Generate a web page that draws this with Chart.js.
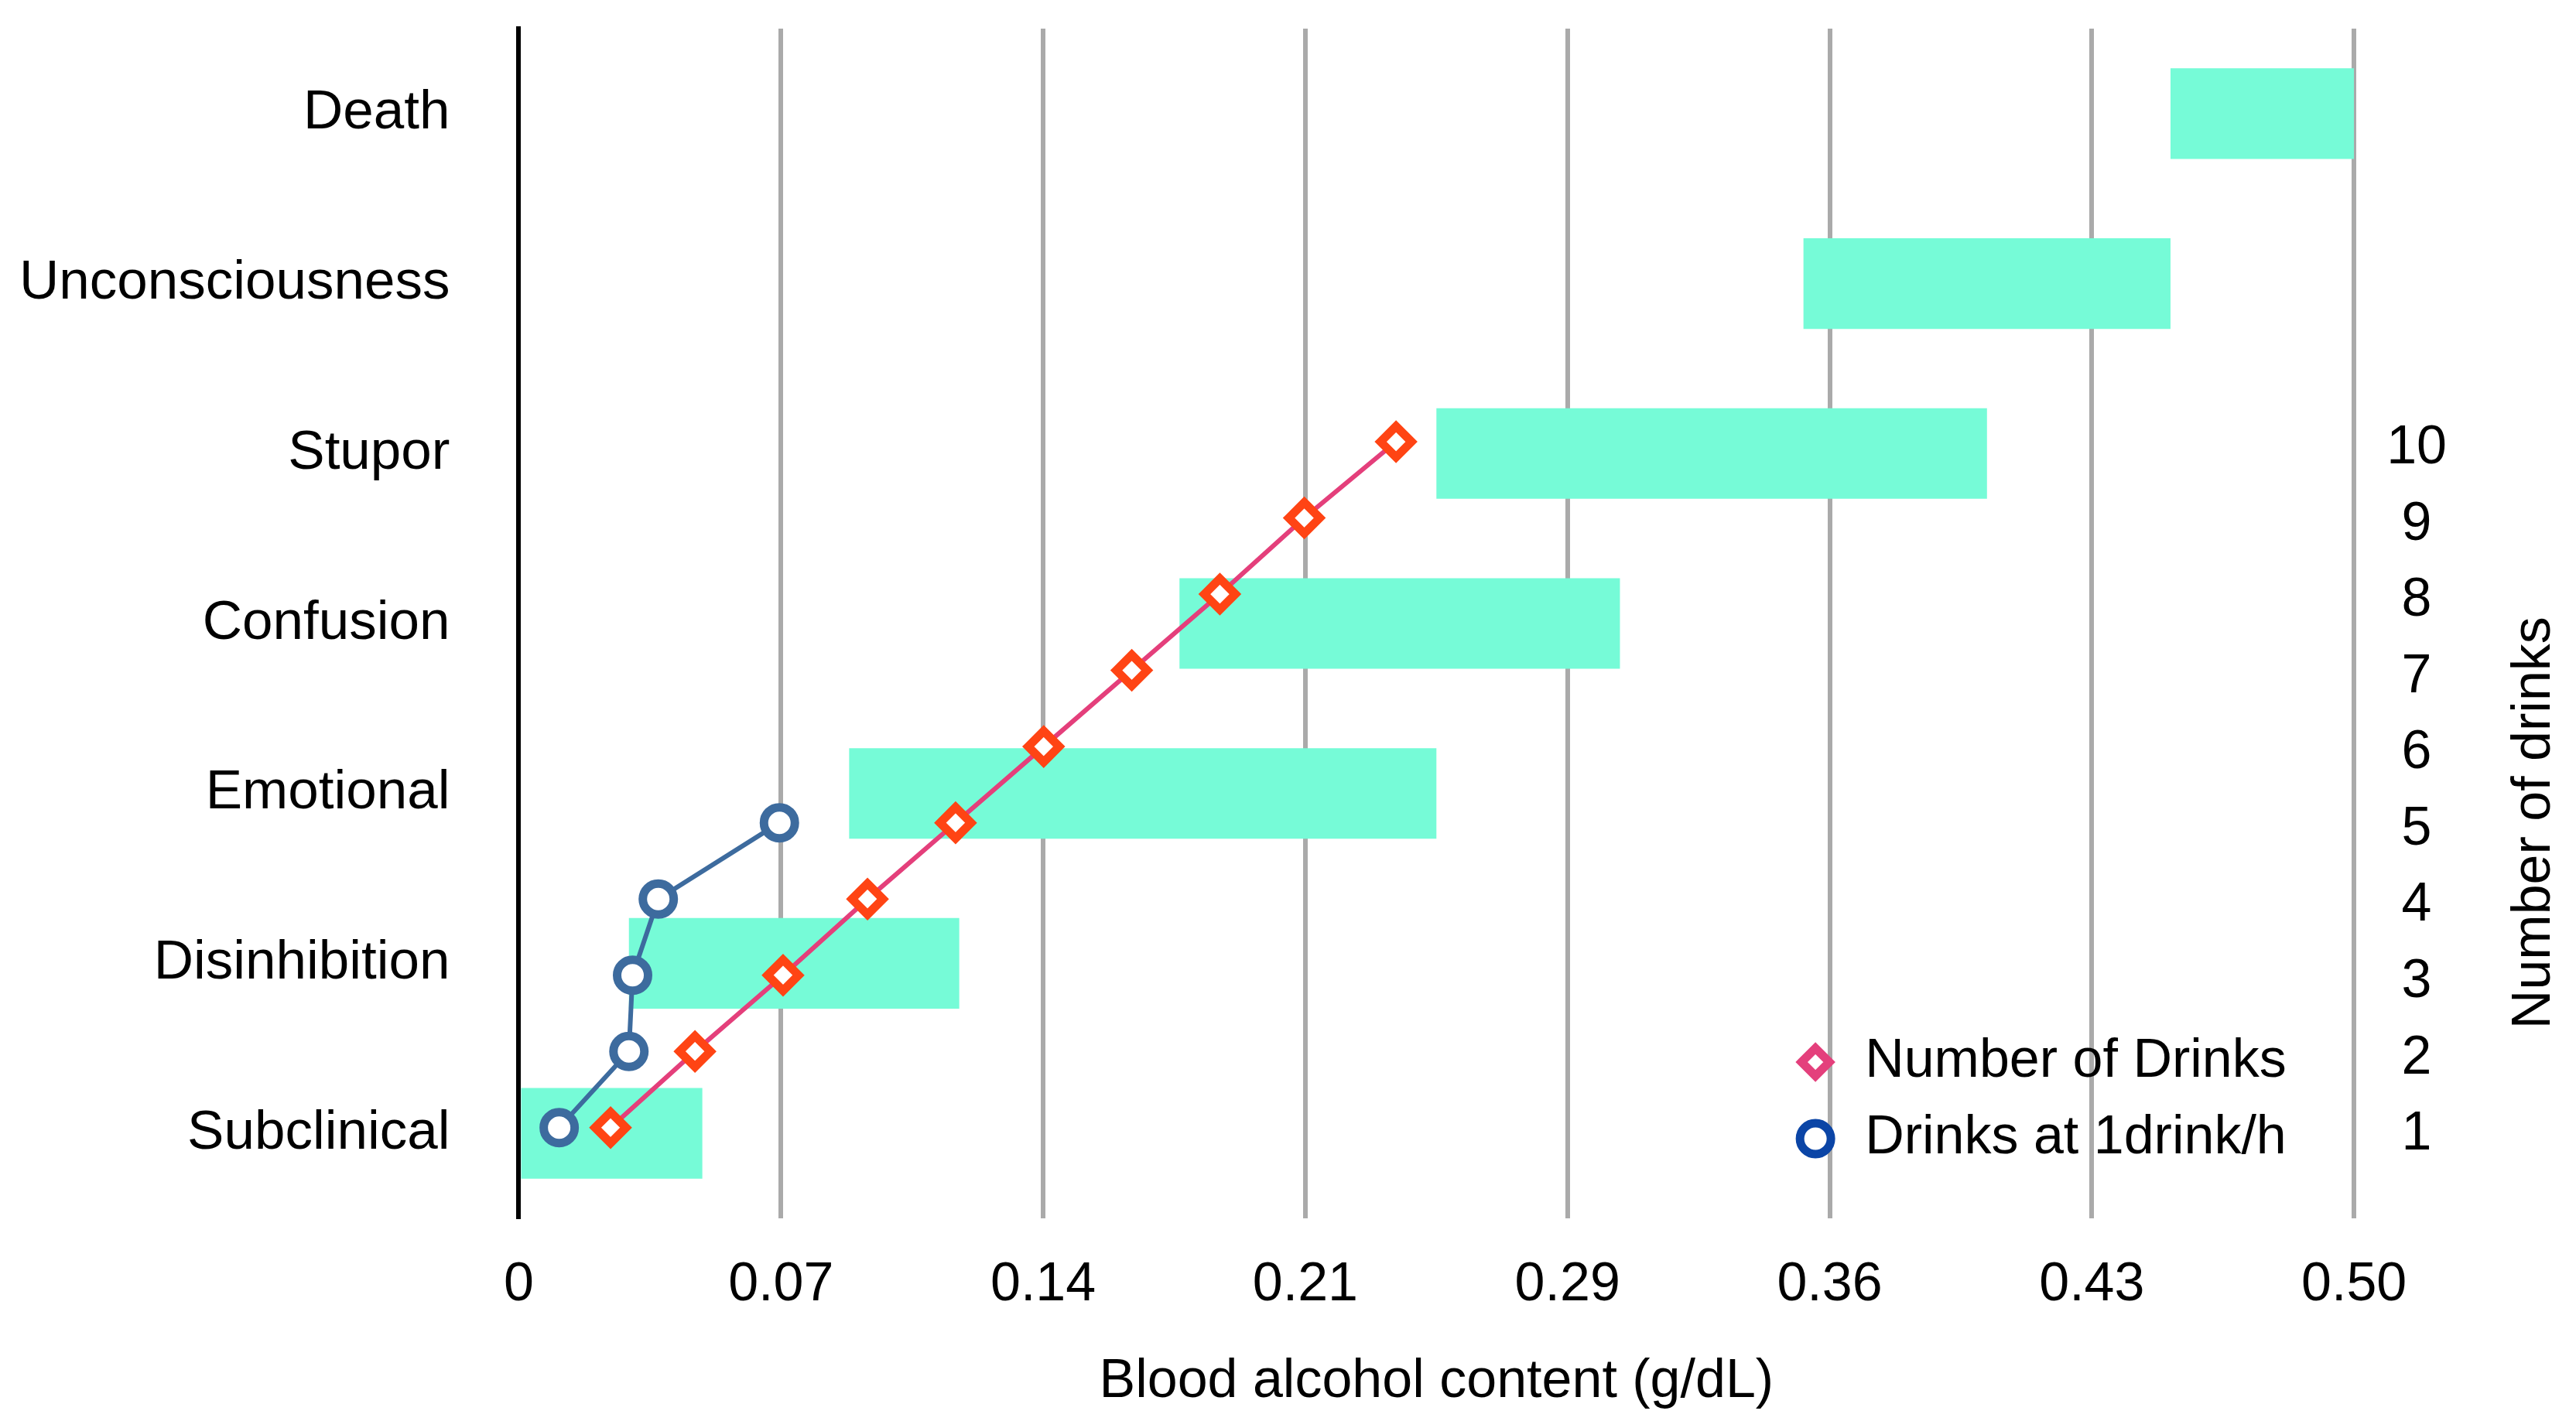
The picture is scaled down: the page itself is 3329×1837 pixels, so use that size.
<!DOCTYPE html>
<html>
<head>
<meta charset="utf-8">
<title>Blood alcohol content and intoxication stages</title>
<script src="https://cdn.jsdelivr.net/npm/chart.js@4.4.1/dist/chart.umd.min.js"></script>
<style>
  html, body { margin: 0; padding: 0; background: #fff; }
  #wrap { width: 3329px; height: 1837px; position: relative; }
</style>
</head>
<body>
<div id="wrap"><canvas id="bacChart"></canvas></div>
<script>
// stages, listed top to bottom as drawn
const stageLabels = ['Death', 'Unconsciousness', 'Stupor', 'Confusion', 'Emotional', 'Disinhibition', 'Subclinical'];
const stageStart  = [0.45, 0.35, 0.25, 0.18, 0.09, 0.03, 0];
const stageEnd    = [0.50, 0.45, 0.40, 0.30, 0.25, 0.12, 0.05];

// number of drinks vs BAC
const drinkCount = [1, 2, 3, 4, 5, 6, 7, 8, 9, 10];
const drinkBac   = [0.025, 0.048, 0.072, 0.095, 0.119, 0.143, 0.167, 0.191, 0.214, 0.239];

// drinks taken at 1 drink per hour
const hourlyCount = [1, 2, 3, 4, 5];
const hourlyBac   = [0.011, 0.030, 0.031, 0.038, 0.071];

const xTickLabels = ['0', '0.07', '0.14', '0.21', '0.29', '0.36', '0.43', '0.50'];
const drinkTicks  = [1, 2, 3, 4, 5, 6, 7, 8, 9, 10];

const X_MAX = 0.5;
const FONT = "'Liberation Sans', Arial, Helvetica, sans-serif";

Chart.defaults.font.family = FONT;
Chart.defaults.color = '#000';

// legend sits inside the plot, bottom right
const innerLegend = {
  id: 'innerLegend',
  afterDatasetsDraw(chart) {
    const { ctx, chartArea } = chart;
    const items = chart.data.datasets.filter(d => d.type === 'line');
    ctx.save();
    ctx.font = '70px ' + FONT;
    items.forEach((ds, i) => {
      const x = chartArea.right - 696;
      const y = chartArea.bottom - 202 + i * 99;
      const r = ds.legendRadius;
      ctx.beginPath();
      if (ds.pointStyle === 'rectRot') {
        ctx.moveTo(x - r, y);
        ctx.lineTo(x, y - r);
        ctx.lineTo(x + r, y);
        ctx.lineTo(x, y + r);
        ctx.closePath();
      } else {
        ctx.arc(x, y, r, 0, Math.PI * 2);
      }
      ctx.fillStyle = '#fff';
      ctx.strokeStyle = ds.legendColor;
      ctx.lineWidth = 11;
      ctx.fill();
      ctx.stroke();
      ctx.fillStyle = '#000';
      ctx.textAlign = 'left';
      ctx.textBaseline = 'middle';
      ctx.fillText(ds.label, chartArea.right - 632, y);
    });
    ctx.restore();
  }
};

// right axis title, reads bottom to top
const sideTitle = {
  id: 'sideTitle',
  afterDraw(chart) {
    const { ctx } = chart;
    const y2 = chart.scales.y2;
    ctx.save();
    ctx.font = '70px ' + FONT;
    ctx.fillStyle = '#000';
    ctx.textAlign = 'center';
    ctx.textBaseline = 'middle';
    ctx.translate(chart.width - 53, y2.getPixelForValue(5));
    ctx.rotate(-Math.PI / 2);
    ctx.fillText('Number of drinks', 0, 0);
    ctx.restore();
  }
};

const ctx = document.getElementById('bacChart');

new Chart(ctx, {
  type: 'bar',
  data: {
    labels: stageLabels,
    datasets: [
      {
        type: 'line',
        label: 'Number of Drinks',
        data: drinkBac.map((v, i) => ({ x: v, y: drinkCount[i] })),
        xAxisID: 'x',
        yAxisID: 'y2',
        borderColor: '#E43F7B',
        borderWidth: 6,
        tension: 0,
        fill: false,
        pointStyle: 'rectRot',
        pointRadius: 20,
        pointHoverRadius: 20,
        pointBorderWidth: 11,
        pointBorderColor: '#FF4414',
        pointBackgroundColor: '#fff',
        legendColor: '#E4407C',
        legendRadius: 18,
        order: 1
      },
      {
        type: 'line',
        label: 'Drinks at 1drink/h',
        data: hourlyBac.map((v, i) => ({ x: v, y: hourlyCount[i] })),
        xAxisID: 'x',
        yAxisID: 'y2',
        borderColor: '#3D6B9E',
        borderWidth: 6,
        tension: 0,
        fill: false,
        pointStyle: 'circle',
        pointRadius: 20,
        pointHoverRadius: 20,
        pointBorderWidth: 11,
        pointBorderColor: '#3D6B9E',
        pointBackgroundColor: '#fff',
        legendColor: '#0B45A6',
        legendRadius: 20,
        order: 2
      },
      {
        type: 'bar',
        label: 'Stage',
        data: stageStart.map((s, i) => [s, stageEnd[i]]),
        xAxisID: 'x',
        yAxisID: 'y',
        backgroundColor: '#76FBD7',
        borderWidth: 0,
        grouped: false,
        barPercentage: 0.533,
        categoryPercentage: 1,
        order: 3
      }
    ]
  },
  options: {
    indexAxis: 'y',
    responsive: true,
    maintainAspectRatio: false,
    devicePixelRatio: 1,
    animation: false,
    events: [],
    layout: { padding: { top: 37, left: 25, right: 167, bottom: 0 } },
    plugins: {
      legend: { display: false },
      tooltip: { enabled: false }
    },
    scales: {
      x: {
        type: 'linear',
        position: 'bottom',
        min: 0,
        max: X_MAX,
        offset: false,
        afterBuildTicks: scale => {
          scale.ticks = xTickLabels.map((_, i) => ({ value: i * X_MAX / (xTickLabels.length - 1) }));
        },
        ticks: {
          padding: 45,
          autoSkip: false,
          maxRotation: 0,
          color: '#000',
          font: { size: 70 },
          callback: (value, index) => xTickLabels[index]
        },
        grid: { color: '#aaaaaa', lineWidth: 6, drawTicks: false, offset: false },
        border: { display: false },
        title: {
          display: true,
          text: 'Blood alcohol content (g/dL)',
          color: '#000',
          font: { size: 70 },
          padding: { top: -4, bottom: 8 }
        }
      },
      y: {
        type: 'category',
        position: 'left',
        offset: true,
        z: 1,
        grid: { display: false, drawTicks: true, tickLength: 89, offset: true },
        border: { display: true, color: '#000', width: 6 },
        ticks: { padding: 0, autoSkip: false, color: '#000', font: { size: 71, lineHeight: 1 } }
      },
      y2: {
        type: 'linear',
        position: 'right',
        min: -0.19,
        max: 15.42,
        offset: false,
        afterBuildTicks: scale => {
          scale.ticks = drinkTicks.map(v => ({ value: v }));
        },
        grid: { display: false, drawTicks: true, tickLength: 42 },
        border: { display: false },
        ticks: {
          padding: 0,
          crossAlign: 'center',
          labelOffset: 9,
          autoSkip: false,
          color: '#000',
          font: { size: 70, lineHeight: 1 }
        }
      }
    }
  },
  plugins: [innerLegend, sideTitle]
});
</script>
</body>
</html>
